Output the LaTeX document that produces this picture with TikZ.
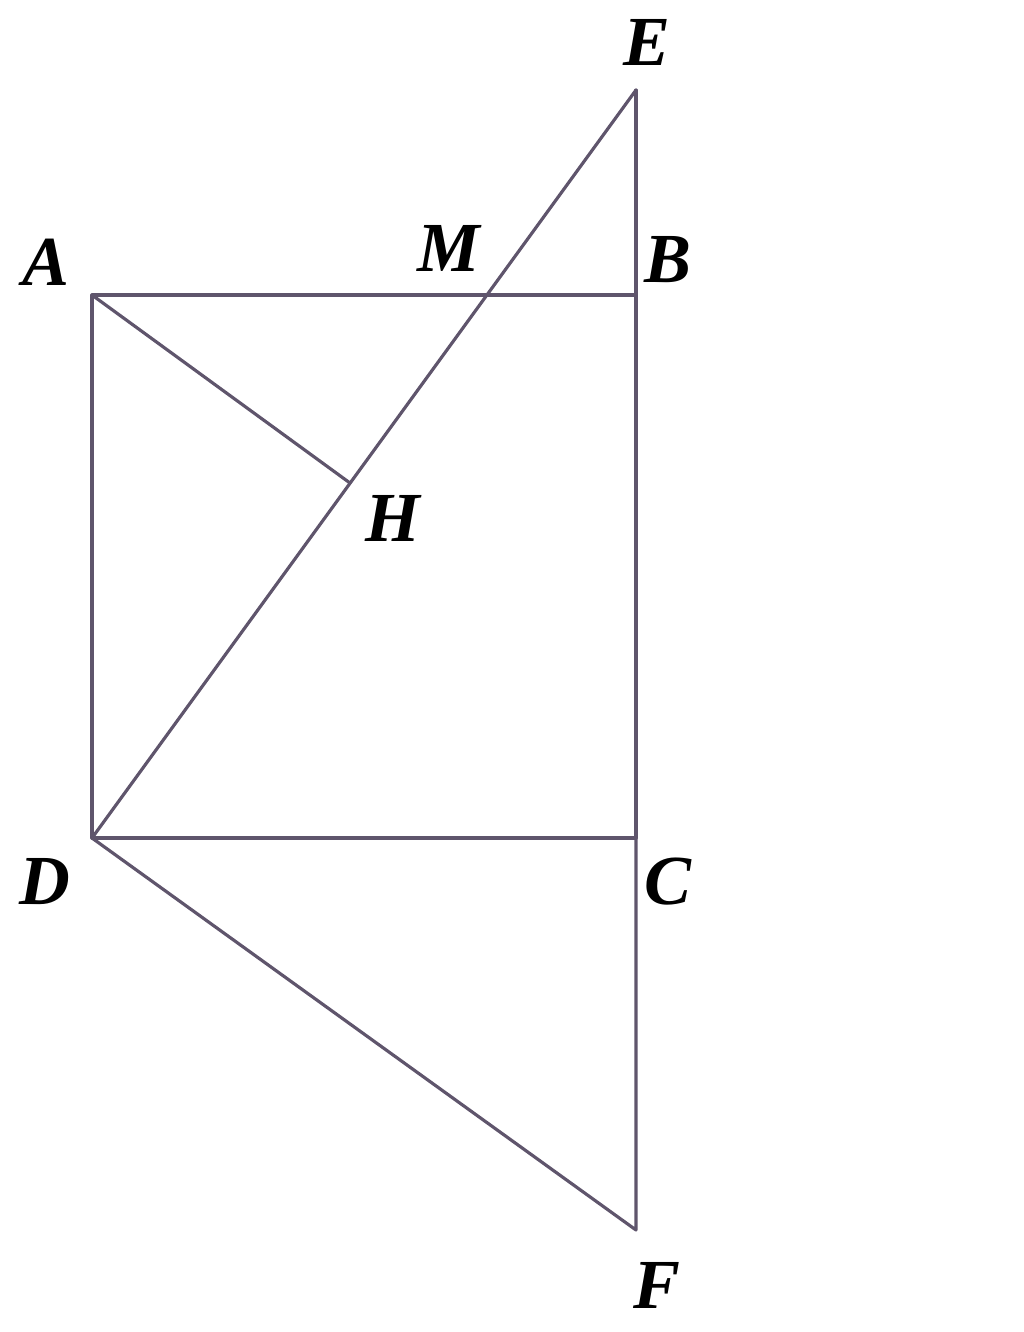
\documentclass[tikz,border=0pt]{standalone}
\usepackage{fontspec}
\setmainfont{Liberation Serif}
\definecolor{linec}{RGB}{95,85,108}
\begin{document}
\begin{tikzpicture}[x=0.01cm,y=-0.01cm,
  seg/.style={draw=linec,line width=0.9pt,line cap=round,line join=round},
  lbl/.style={font=\fontsize{20}{24}\selectfont\bfseries\itshape,inner sep=0pt,text=black}]
\useasboundingbox (0,0) rectangle (1024,1332);
\coordinate (A) at (92,295);
\coordinate (B) at (636,295);
\coordinate (C) at (636,838);
\coordinate (D) at (92,838);
\coordinate (E) at (636,90);
\coordinate (F) at (636,1230);
\coordinate (H) at (350,483);
\coordinate (M) at (487,295);
\draw[seg] (A) -- (B) -- (C) -- (D) -- cycle;
\draw[seg] (E) -- (B);
\draw[seg] (C) -- (F) -- (D);
\draw[seg] (D) -- (E);
\draw[seg] (A) -- (H);
\node[lbl] (lA) at (46,262) {A};
\node[lbl] (lB) at (668,260) {B};
\node[lbl] (lC) at (668,882) {C};
\node[lbl] (lD) at (45,882) {D};
\node[lbl] (lE) at (647,42) {E};
\node[lbl] (lF) at (657,1285) {F};
\node[lbl] (lH) at (393,518) {H};
\node[lbl] (lM) at (449,248) {M};
\end{tikzpicture}
\end{document}
